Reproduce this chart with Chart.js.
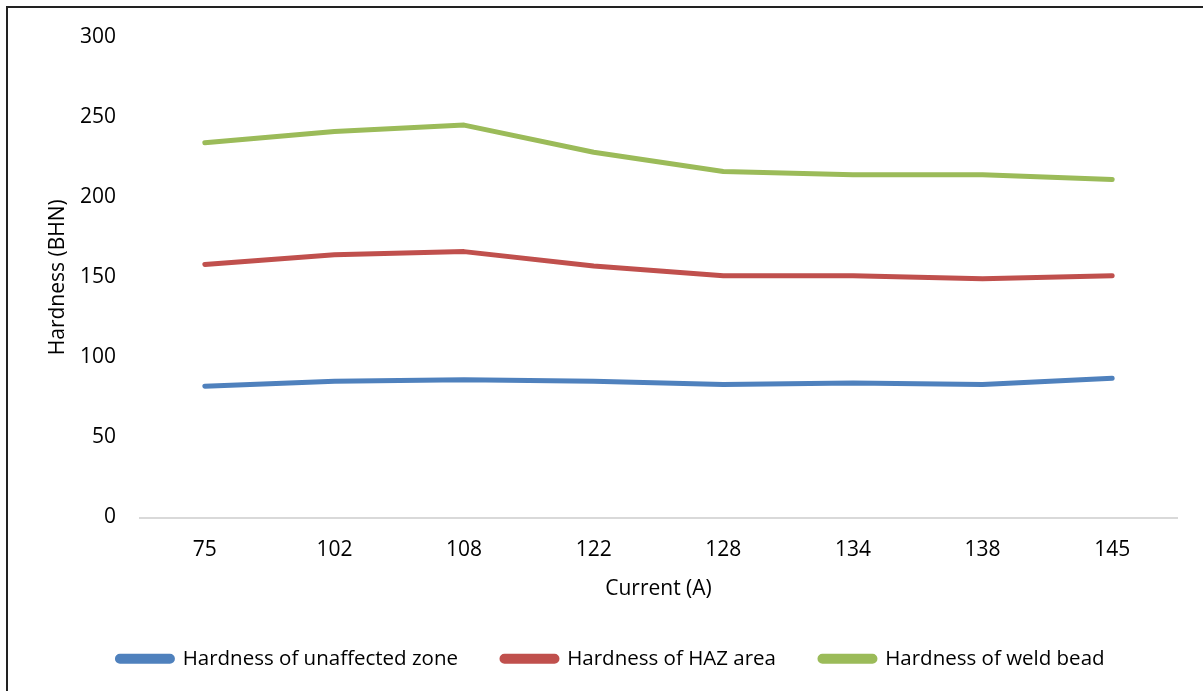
<!DOCTYPE html>
<html>
<head>
<meta charset="utf-8">
<script src="https://cdn.jsdelivr.net/npm/chart.js@4.4.0/dist/chart.umd.min.js"></script>
<style>
    html, body { margin: 0; padding: 0; background: #fff; }
    #wrap { position: relative; width: 1203px; height: 691px; overflow: hidden; }
    #frame { position: absolute; left: 6px; top: 6px; width: 1220px; height: 720px;
             border-top: 2px solid #222; border-left: 2px solid #222; box-sizing: border-box; }
    canvas { position: absolute; left: 0; top: 0; }
</style>
</head>
<body>
<div id="wrap">
    <div id="frame"></div>
    <canvas id="hardnessChart" width="1203" height="691"></canvas>
</div>
<script>
    // 데이터
    const currents = ['75', '102', '108', '122', '128', '134', '138', '145'];
    const unaffectedZone = [82, 85, 86, 85, 83, 84, 83, 87];
    const hazArea = [158, 164, 166, 157, 151, 151, 149, 151];
    const weldBead = [234, 241, 245, 228, 216, 214, 214, 211];
    const yTicks = [0, 50, 100, 150, 200, 250, 300];

    const fontName = "'Open Sans', sans-serif";

    function makeSet(label, values, color) {
        return {
            label: label,
            data: values,
            borderColor: color,
            backgroundColor: color,
            borderWidth: 5,
            borderCapStyle: 'round',
            borderJoinStyle: 'round',
            pointRadius: 0,
            tension: 0
        };
    }

    var ctx = document.getElementById('hardnessChart').getContext('2d');

    const hardnessChart = new Chart(ctx, {
        type: 'line',
        data: {
            labels: currents,
            datasets: [
                makeSet('Hardness of unaffected zone', unaffectedZone, '#4F81BD'),
                makeSet('Hardness of HAZ area', hazArea, '#C0504D'),
                makeSet('Hardness of weld bead', weldBead, '#9BBB59')
            ]
        },
        options: {
            responsive: false,
            animation: false,
            layout: {
                padding: { left: 45, right: 26, top: 37, bottom: 12 }
            },
            scales: {
                x: {
                    offset: true,
                    grid: { display: false },
                    border: { display: true, color: '#d9d9d9', width: 2 },
                    ticks: {
                        color: '#000',
                        font: { family: fontName, size: 21 },
                        padding: 12,
                        maxRotation: 0
                    },
                    title: {
                        display: true,
                        text: 'Current (A)',
                        color: '#000',
                        font: { family: fontName, size: 21 },
                        padding: { top: 0, bottom: 3 }
                    },
                    afterFit: function (scale) { scale.height = 87; }
                },
                y: {
                    min: 0,
                    max: 300,
                    grid: { display: false },
                    border: { display: false },
                    afterBuildTicks: function (scale) {
                        scale.ticks = yTicks.map(v => ({ value: v }));
                    },
                    ticks: {
                        color: '#000',
                        font: { family: fontName, size: 21 },
                        padding: 16
                    },
                    title: {
                        display: true,
                        text: 'Hardness (BHN)',
                        color: '#000',
                        font: { family: fontName, size: 21 },
                        padding: { top: 0, bottom: 0 }
                    },
                    afterFit: function (scale) { scale.width = 95; }
                }
            },
            plugins: {
                legend: {
                    position: 'bottom',
                    labels: {
                        color: '#000',
                        font: { family: fontName, size: 20.5 },
                        boxWidth: 55,
                        boxHeight: 5,
                        useBorderRadius: true,
                        borderRadius: 2.5,
                        padding: 44
                    }
                },
                tooltip: { enabled: false }
            }
        }
    });
</script>
</body>
</html>
